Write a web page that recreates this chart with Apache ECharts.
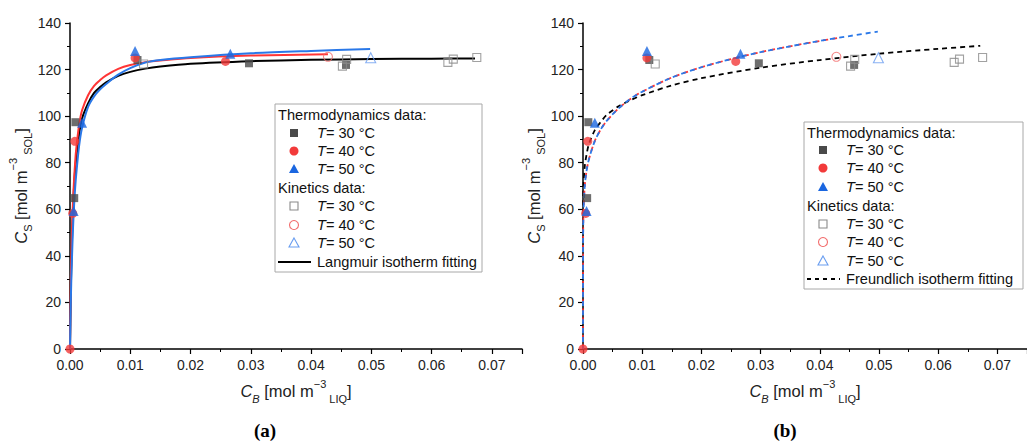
<!DOCTYPE html>
<html>
<head>
<meta charset="utf-8">
<script src="https://cdn.jsdelivr.net/npm/echarts@6/dist/echarts.min.js"></script>
<style>
  html, body { margin: 0; padding: 0; background: #fff; }
  #chart { width: 1027px; height: 441px; }
</style>
</head>
<body>
<div id="chart"></div>
<script>
// axis ticks
const xTicks = [0, 0.01, 0.02, 0.03, 0.04, 0.05, 0.06, 0.07];
const yTicks = [0, 20, 40, 60, 80, 100, 120, 140];

// measured points [C_B, C_S]
const thermo30 = [[0.0009, 97.4], [0.0007, 64.8], [0.0112, 124.1], [0.0297, 122.7], [0.0458, 122]];
const thermo40 = [[0, 0], [0.00045, 58.2], [0.0008, 89.2], [0.0108, 125], [0.0258, 123.5]];
const thermo50 = [[0.0006, 59.3], [0.002, 97.2], [0.0108, 128], [0.0266, 126.8]];
const kinetic30 = [[0.0122, 122.4], [0.0452, 121.5], [0.0459, 124.4], [0.0627, 123.1], [0.0636, 124.5], [0.0675, 125.2]];
const kinetic40 = [[0.0428, 125.5]];
const kinetic50 = [[0.0499, 125.1]];

// fitted curves
const langmuir30 = [[0, 0], [0.0001, 19], [0.0002, 34], [0.0004, 53], [0.0006, 66], [0.0008, 75], [0.001, 81], [0.0015, 92], [0.002, 99], [0.003, 105.5], [0.004, 110], [0.005, 112.5], [0.006, 114.5], [0.008, 117.3], [0.01, 119], [0.0125, 120.4], [0.015, 121.3], [0.02, 122.5], [0.03, 123.6], [0.04, 124.2], [0.05, 124.5], [0.06, 124.7], [0.0672, 124.8]];
const langmuir40 = [[0, 0], [0.0001, 24], [0.0002, 38], [0.0004, 57], [0.0006, 69], [0.0008, 78], [0.001, 85], [0.0015, 96], [0.002, 102.5], [0.003, 109], [0.004, 113], [0.005, 115.5], [0.006, 117.5], [0.008, 120.3], [0.01, 122], [0.0125, 123.2], [0.015, 123.9], [0.02, 125], [0.03, 126], [0.0428, 126.6]];
const langmuir50 = [[0, 0], [0.0001, 16], [0.0002, 28], [0.0004, 45], [0.0006, 58], [0.0008, 67], [0.001, 74], [0.0015, 87], [0.002, 95], [0.003, 104], [0.004, 108.5], [0.005, 111.5], [0.006, 113.8], [0.008, 117.8], [0.01, 120.6], [0.0125, 123], [0.015, 124.1], [0.02, 125.3], [0.03, 127], [0.04, 128], [0.0498, 128.8]];
const freundlich30 = [[0, 0], [0.00002, 60], [0.0001, 71], [0.0003, 78.5], [0.0006, 83.5], [0.001, 88], [0.002, 94], [0.003, 97.5], [0.004, 100.5], [0.006, 104.2], [0.008, 106.8], [0.01, 109], [0.015, 113.2], [0.02, 116.3], [0.03, 120.8], [0.04, 124.1], [0.05, 126.8], [0.06, 128.9], [0.0671, 130.2]];
const freundlich40 = [[0, 0], [0.00002, 48], [0.0001, 60], [0.0003, 70], [0.0006, 76.5], [0.001, 81.5], [0.002, 89.4], [0.003, 94.3], [0.004, 98], [0.006, 103.3], [0.008, 107.4], [0.01, 110.5], [0.015, 116.6], [0.02, 121], [0.025, 124.5], [0.03, 127.5], [0.035, 130], [0.04, 132.3], [0.043, 133.5]];
const freundlich50 = [[0, 0], [0.00002, 48], [0.0001, 60], [0.0003, 70], [0.0006, 76.5], [0.001, 81.5], [0.002, 89.4], [0.003, 94.3], [0.004, 98], [0.006, 103.3], [0.008, 107.4], [0.01, 110.5], [0.015, 116.6], [0.02, 121], [0.025, 124.5], [0.03, 127.5], [0.035, 130], [0.04, 132.3], [0.045, 134.4], [0.0498, 136.3]];

const FONT = 'Liberation Sans, Arial, sans-serif';
const GRAY = '#4a4a4a', RED = '#f23a3a', BLUE = '#1a66e0';
const GRAY_O = '#8a8a8a', RED_O = '#f26a6a', BLUE_O = '#6a9ef0';

const myChart = echarts.init(document.getElementById('chart'), null, { renderer: 'svg' });

const nameRich = {
  i: { fontStyle: 'italic', fontSize: 16.5, lineHeight: 26, fontFamily: FONT, color: '#222' },
  isub: { fontStyle: 'italic', fontSize: 11, lineHeight: 12, verticalAlign: 'bottom', fontFamily: FONT, color: '#222' },
  sub: { fontSize: 11, lineHeight: 12, verticalAlign: 'bottom', fontFamily: FONT, color: '#222' },
  sup: { fontSize: 11, lineHeight: 12, verticalAlign: 'top', fontFamily: FONT, color: '#222' }
};

function xAxisOf(idx) {
  return {
    gridIndex: idx, type: 'value', min: 0, max: 0.075, interval: 0.01,
    name: '{i|C}{isub|B} [mol m{sup|−3}{sub| LIQ}]',
    nameLocation: 'middle', nameGap: 29,
    nameTextStyle: { fontSize: 16.5, lineHeight: 26, color: '#222', fontFamily: FONT, rich: nameRich },
    axisLine: { onZero: false, lineStyle: { color: '#000', width: 1.5 } },
    axisTick: { show: true, inside: false, length: 5, lineStyle: { color: '#000', width: 1.2 } },
    minorTick: { show: true, splitNumber: 2, length: 3, lineStyle: { color: '#000', width: 1 } },
    axisLabel: {
      showMaxLabel: false, margin: 9, fontSize: 14, color: '#222', fontFamily: FONT,
      formatter: v => xTicks.some(t => Math.abs(t - v) < 1e-9) ? v.toFixed(2) : ''
    },
    splitLine: { show: false }
  };
}

function yAxisOf(idx) {
  return {
    gridIndex: idx, type: 'value', min: 0, max: 140, interval: 20,
    name: '{i|C}{sub|S} [mol m{sup|−3}{sub| SOL}]',
    nameLocation: 'middle', nameGap: 35, nameRotate: 90,
    nameTextStyle: { fontSize: 16.5, lineHeight: 26, color: '#222', fontFamily: FONT, rich: nameRich },
    axisLine: { onZero: false, lineStyle: { color: '#000', width: 1.5 } },
    axisTick: { show: true, inside: false, length: 5, lineStyle: { color: '#000', width: 1.2 } },
    minorTick: { show: true, splitNumber: 2, length: 3, lineStyle: { color: '#000', width: 1 } },
    axisLabel: {
      margin: 9, fontSize: 14, color: '#222', fontFamily: FONT,
      formatter: v => yTicks.includes(v) ? String(v) : ''
    },
    splitLine: { show: false }
  };
}

function curve(data, idx, color, dashed, offset) {
  return {
    type: 'line', xAxisIndex: idx, yAxisIndex: idx, data: data,
    showSymbol: false, smooth: 0.3, z: 2, silent: true,
    lineStyle: { color: color, width: dashed ? 1.8 : 2, type: dashed ? [5, 4] : 'solid', dashOffset: offset || 0 }
  };
}

function points(data, idx, symbol, size, color, open) {
  return {
    type: 'scatter', xAxisIndex: idx, yAxisIndex: idx, data: data,
    symbol: symbol, symbolSize: size, z: 3,
    itemStyle: open
      ? { color: 'rgba(255,255,255,0)', borderColor: color, borderWidth: 1.1 }
      : { color: color }
  };
}

function dataSeries(idx) {
  return [
    points(thermo30, idx, 'rect', 8, GRAY, false),
    points(thermo40, idx, 'circle', 9, RED, false),
    points(thermo50, idx, 'triangle', 10, BLUE, false),
    points(kinetic30, idx, 'rect', 8, GRAY_O, true),
    points(kinetic40, idx, 'circle', 9, RED_O, true),
    points(kinetic50, idx, 'triangle', 10, BLUE_O, true)
  ];
}

// legend box drawn with graphic elements
function legendBox(box, hx, mx, tx, rows, fitText, dashed) {
  const els = [];
  els.push({ type: 'rect', z: 10, shape: { x: box[0], y: box[1], width: box[2], height: box[3] },
    style: { fill: '#fff', stroke: '#a8a8a8', lineWidth: 1 } });
  const txt = (x, y, text) => ({ type: 'text', z: 11, x: x, y: y,
    style: { text: text, fontSize: 14.6, fontFamily: FONT, fill: '#111', verticalAlign: 'middle', align: 'left',
      rich: { i: { fontStyle: 'italic', fontSize: 14.6, fontFamily: FONT, fill: '#111' } } } });
  els.push(txt(hx, rows[0], 'Thermodynamics data:'));
  els.push(txt(hx, rows[4], 'Kinetics data:'));
  const marks = [
    [rows[1], 'rect', GRAY, false], [rows[2], 'circle', RED, false], [rows[3], 'tri', BLUE, false],
    [rows[5], 'rect', GRAY_O, true], [rows[6], 'circle', RED_O, true], [rows[7], 'tri', BLUE_O, true]
  ];
  const temps = ['30', '40', '50', '30', '40', '50'];
  marks.forEach((m, k) => {
    const y = m[0];
    const st = m[3] ? { fill: 'none', stroke: m[2], lineWidth: 1.1 } : { fill: m[2] };
    if (m[1] === 'rect') els.push({ type: 'rect', z: 11, shape: { x: mx - 4, y: y - 4, width: 8, height: 8 }, style: st });
    else if (m[1] === 'circle') els.push({ type: 'circle', z: 11, shape: { cx: mx, cy: y, r: 4.5 }, style: st });
    else els.push({ type: 'polygon', z: 11, shape: { points: [[mx, y - 5], [mx + 5, y + 4], [mx - 5, y + 4]] }, style: st });
    els.push(txt(tx, y, '{i|T}= ' + temps[k] + ' °C'));
  });
  els.push({ type: 'line', z: 11, shape: { x1: hx, y1: rows[8], x2: tx - 6, y2: rows[8] },
    style: { stroke: '#000', lineWidth: 2, lineDash: dashed ? [4, 4] : null } });
  els.push(txt(tx, rows[8], fitText));
  return els;
}

const graphics = []
  .concat(legendBox([275, 104, 207, 168], 278, 294, 317, [115, 133, 151, 169, 188, 206, 225, 243, 262], 'Langmuir isotherm fitting', false))
  .concat(legendBox([804, 122, 219, 167], 807, 823, 846, [133, 150, 168, 187, 206, 224, 242, 261, 279], 'Freundlich isotherm fitting', true))
  .concat([
    { type: 'text', x: 265, y: 430, style: { text: '(a)', fontSize: 19, fontWeight: 'bold', fontFamily: 'Liberation Serif, DejaVu Serif, serif', fill: '#000', align: 'center', verticalAlign: 'middle' } },
    { type: 'text', x: 785, y: 430, style: { text: '(b)', fontSize: 19, fontWeight: 'bold', fontFamily: 'Liberation Serif, DejaVu Serif, serif', fill: '#000', align: 'center', verticalAlign: 'middle' } }
  ]);

const option = {
  animation: false,
  backgroundColor: '#fff',
  grid: [
    { left: 70, top: 23, width: 452, height: 326 },
    { left: 583, top: 23, width: 452, height: 326 }
  ],
  xAxis: [xAxisOf(0), xAxisOf(1)],
  yAxis: [yAxisOf(0), yAxisOf(1)],
  series: [
    curve(langmuir30, 0, '#000', false),
    curve(langmuir40, 0, '#ff3535', false),
    curve(langmuir50, 0, '#2a78e8', false),
    curve(freundlich30, 1, '#000', true),
    curve(freundlich40, 1, '#ff3535', true),
    curve(freundlich50, 1, '#2a78e8', true, 2)
  ].concat(dataSeries(0), dataSeries(1)),
  graphic: graphics
};

myChart.setOption(option);
</script>
</body>
</html>
